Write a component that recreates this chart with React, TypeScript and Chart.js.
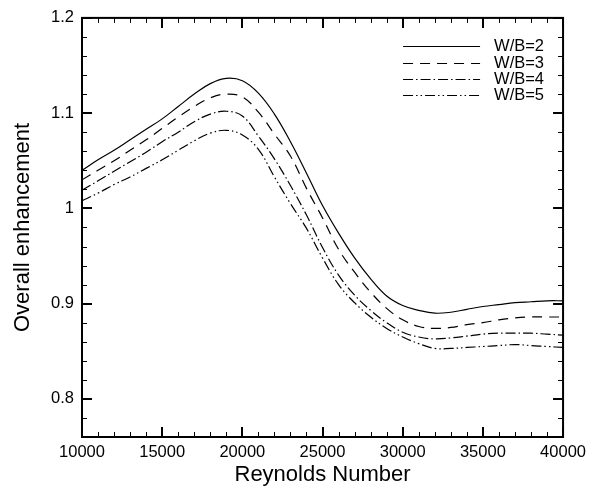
import React, { useEffect, useRef } from "react";
import { Chart, registerables } from "chart.js";

Chart.register(...registerables);

// ---- Data ----
const reynolds = [
  10000, 11000, 12000, 13000, 14000, 15000, 16000, 17000, 18000, 19000, 20000,
  21000, 22000, 23000, 24000, 25000, 26000, 27000, 28000, 29000, 30000,
  31000, 32000, 33000, 34000, 35000, 36000, 37000, 38000, 39000, 40000,
];

const wb2 = [
  1.040, 1.051, 1.061, 1.072, 1.083, 1.094, 1.107, 1.120, 1.131, 1.1365, 1.134,
  1.121, 1.099, 1.070, 1.037, 1.003, 0.974, 0.948, 0.926, 0.908, 0.898,
  0.893, 0.890, 0.891, 0.894, 0.897, 0.899, 0.901, 0.902, 0.903, 0.903,
];

const wb3 = [
  1.030, 1.040, 1.050, 1.061, 1.072, 1.084, 1.096, 1.107, 1.116, 1.120, 1.117,
  1.101, 1.078, 1.055, 1.021, 0.990, 0.957, 0.933, 0.912, 0.895, 0.883,
  0.876, 0.874, 0.875, 0.878, 0.880, 0.883, 0.885, 0.886, 0.886, 0.886,
];

const wb4 = [
  1.019, 1.029, 1.039, 1.049, 1.059, 1.070, 1.080, 1.091, 1.099, 1.102, 1.097,
  1.076, 1.052, 1.024, 0.993, 0.959, 0.930, 0.909, 0.893, 0.880, 0.870,
  0.865, 0.863, 0.864, 0.866, 0.868, 0.869, 0.869, 0.869, 0.868, 0.867,
];

const wb5 = [
  1.008, 1.016, 1.025, 1.033, 1.042, 1.051, 1.061, 1.071, 1.079, 1.082, 1.077,
  1.062, 1.033, 1.005, 0.979, 0.948, 0.920, 0.901, 0.886, 0.874, 0.865,
  0.858, 0.853, 0.853, 0.854, 0.855, 0.856, 0.857, 0.856, 0.855, 0.854,
];

const seriesLabels = ["W/B=2", "W/B=3", "W/B=4", "W/B=5"];
const seriesValues = [wb2, wb3, wb4, wb5];
const seriesDashes: number[][] = [[], [10, 7], [10, 3, 1.5, 3], [10, 3, 1.5, 3, 1.5, 3]];

const xTickValues = [10000, 15000, 20000, 25000, 30000, 35000, 40000];
const yTickValues = [0.8, 0.9, 1, 1.1, 1.2];
const yTickLabels = ["0.8", "0.9", "1", "1.1", "1.2"];

const X_MIN = 10000;
const X_MAX = 40000;
const X_MAJOR = 5000;
const X_MINOR = 1000;
const Y_MIN = 0.76;
const Y_MAX = 1.2;
const Y_MAJOR = 0.1;
const Y_MINOR = 0.02;

const FONT = "'Liberation Sans', Arial, Helvetica, sans-serif";

const frameAndLegend = {
  id: "frameAndLegend",
  afterDatasetsDraw(chart: any) {
    const { ctx, chartArea, scales } = chart;
    const { left, right, top, bottom } = chartArea;
    const xs = scales.x;
    const ys = scales.y;
    ctx.save();
    ctx.strokeStyle = "#000";
    ctx.setLineDash([]);

    // x ticks (bottom and top, inside)
    const nx = Math.round((X_MAX - X_MIN) / X_MINOR);
    for (let i = 0; i <= nx; i++) {
      const v = X_MIN + i * X_MINOR;
      const major = Math.abs(v / X_MAJOR - Math.round(v / X_MAJOR)) < 1e-6;
      const len = major ? 10 : 5;
      ctx.lineWidth = major ? 2 : 1;
      let px = xs.getPixelForValue(v);
      px = major ? Math.round(px) : Math.round(px) + 0.5;
      ctx.beginPath();
      ctx.moveTo(px, bottom);
      ctx.lineTo(px, bottom - len);
      ctx.moveTo(px, top);
      ctx.lineTo(px, top + len);
      ctx.stroke();
    }
    // y ticks (left and right, inside)
    const ny = Math.round((Y_MAX - Y_MIN) / Y_MINOR);
    for (let i = 0; i <= ny; i++) {
      const v = Y_MIN + i * Y_MINOR;
      const major = Math.abs(v / Y_MAJOR - Math.round(v / Y_MAJOR)) < 1e-6;
      const len = major ? 10 : 5;
      ctx.lineWidth = major ? 2 : 1;
      let py = ys.getPixelForValue(v);
      py = major ? Math.round(py) : Math.round(py) + 0.5;
      ctx.beginPath();
      ctx.moveTo(left, py);
      ctx.lineTo(left + len, py);
      ctx.moveTo(right, py);
      ctx.lineTo(right - len, py);
      ctx.stroke();
    }
    // frame
    ctx.lineWidth = 2;
    ctx.strokeRect(left, top, right - left, bottom - top);

    // legend
    ctx.font = `16.5px ${FONT}`;
    ctx.textBaseline = "middle";
    ctx.textAlign = "left";
    ctx.fillStyle = "#000";
    chart.data.datasets.forEach((ds: any, i: number) => {
      const y = Math.round(top + 28.5 + i * 16.2) + 0.5;
      ctx.lineWidth = 1.2;
      ctx.setLineDash(ds.borderDash || []);
      ctx.beginPath();
      ctx.moveTo(right - 160, y);
      ctx.lineTo(right - 83, y);
      ctx.stroke();
      ctx.setLineDash([]);
      ctx.fillText(ds.label, right - 69, y);
    });
    ctx.restore();
  },
};

export default function App() {
  const canvasRef = useRef<HTMLCanvasElement | null>(null);

  useEffect(() => {
    if (!canvasRef.current) return;
    const chart = new Chart(canvasRef.current, {
      type: "line",
      data: {
        datasets: seriesLabels.map((label, i) => ({
          label,
          data: reynolds.map((x, j) => ({ x, y: seriesValues[i][j] })),
          borderColor: "#000",
          borderWidth: 1.2,
          borderDash: seriesDashes[i],
          pointRadius: 0,
          fill: false,
          tension: 0.4,
        })),
      },
      options: {
        animation: false,
        responsive: true,
        maintainAspectRatio: false,
        devicePixelRatio: 1,
        layout: { padding: { top: 14, right: 25, bottom: 0, left: 0 } },
        plugins: {
          legend: { display: false },
          tooltip: { enabled: false },
        },
        scales: {
          x: {
            type: "linear",
            min: X_MIN,
            max: X_MAX,
            grid: { display: false, drawTicks: false },
            border: { display: false },
            afterBuildTicks: (scale: any) => {
              scale.ticks = xTickValues.map((v) => ({ value: v }));
            },
            ticks: {
              padding: 6,
              color: "#000",
              font: { family: FONT, size: 16.5 },
              maxRotation: 0,
              autoSkip: false,
              callback: (v: any) => String(v),
            },
            title: {
              display: true,
              text: "Reynolds Number",
              color: "#000",
              font: { family: FONT, size: 22 },
              padding: { top: 0, bottom: 3 },
            },
            afterFit: (scale: any) => {
              scale.height = 54;
            },
          },
          y: {
            type: "linear",
            min: Y_MIN,
            max: Y_MAX,
            grid: { display: false, drawTicks: false },
            border: { display: false },
            afterBuildTicks: (scale: any) => {
              scale.ticks = yTickValues.map((v) => ({ value: v }));
            },
            ticks: {
              padding: 8,
              color: "#000",
              font: { family: FONT, size: 16.5 },
              autoSkip: false,
              callback: (v: any) => {
                const idx = yTickValues.findIndex((t) => Math.abs(t - Number(v)) < 1e-9);
                return idx >= 0 ? yTickLabels[idx] : "";
              },
            },
            title: {
              display: true,
              text: "Overall enhancement",
              color: "#000",
              font: { family: FONT, size: 22 },
              padding: { top: 10, bottom: 0 },
            },
            afterFit: (scale: any) => {
              scale.width = 82;
            },
          },
        },
      },
      plugins: [frameAndLegend],
    });
    return () => chart.destroy();
  }, []);

  return (
    <div style={{ position: "absolute", left: 0, top: 0, width: 592, height: 491, background: "#fff" }}>
      <canvas ref={canvasRef} />
    </div>
  );
}
